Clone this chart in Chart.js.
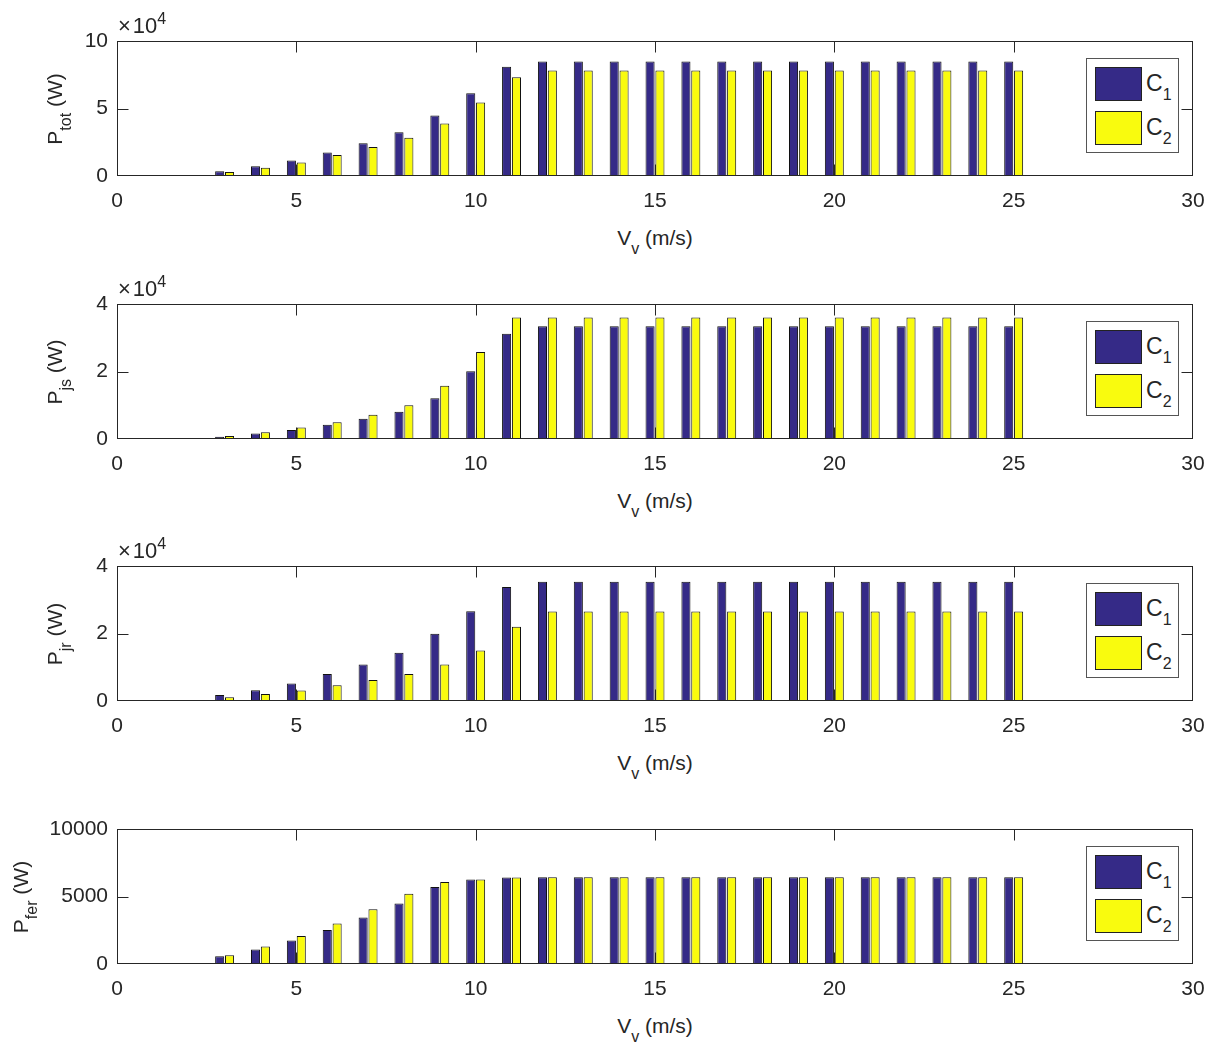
<!DOCTYPE html>
<html>
<head>
<meta charset="utf-8">
<script src="https://cdn.jsdelivr.net/npm/chart.js@4/dist/chart.umd.min.js"></script>
<style>
  body { margin: 0; background: #fff; width: 1214px; height: 1048px; position: relative; overflow: hidden;
         font-family: "Liberation Sans", Arial, sans-serif; color: #262626; }
  .panel { position: absolute; left: 0; width: 1214px; }
  .ytitle { position: absolute; width: 220px; height: 30px; line-height: 30px; text-align: center;
            font-size: 21px; white-space: nowrap; transform: rotate(-90deg); }
  .xtitle { position: absolute; width: 200px; height: 30px; line-height: 30px; text-align: center;
            font-size: 21px; white-space: nowrap; }
  .expo { position: absolute; font-size: 22px; line-height: 22px; white-space: nowrap; }
  .expo .n { margin-left: 2px; }
  .expo sup { font-size: 16px; vertical-align: 9px; line-height: 0; }
  sub { font-size: 16px; vertical-align: -9px; line-height: 0; }
  .leg { position: absolute; width: 91px; height: 93px; border: 1px solid #555; background: #fff; }
  .sw { position: absolute; left: 8px; width: 45px; height: 32px; border: 1px solid #222; }
  .lt { position: absolute; left: 59px; font-size: 23px; line-height: 34px; white-space: nowrap; }
</style>
</head>
<body>
<script>
// vitesse du vent (m/s)
const speeds = [1, 2, 3, 4, 5, 6, 7, 8, 9, 10, 11, 12, 13, 14, 15, 16, 17, 18, 19, 20, 21, 22, 23, 24, 25];

// puissances (W) pour les deux configurations
const ptotC1 = [0, 0, 3500, 7200, 11500, 17500, 24200, 32400, 44900, 61300, 81000, 84800, 84800, 84800, 84800, 84800, 84800, 84800, 84800, 84800, 84800, 84800, 84800, 84800, 84800];
const ptotC2 = [0, 0, 3000, 6200, 10000, 15500, 21400, 28400, 38900, 54400, 73100, 78100, 78100, 78100, 78100, 78100, 78100, 78100, 78100, 78100, 78100, 78100, 78100, 78100, 78100];
const pjsC1 = [0, 0, 700, 1600, 2700, 4200, 6000, 8100, 12100, 20100, 31200, 33400, 33400, 33400, 33400, 33400, 33400, 33400, 33400, 33400, 33400, 33400, 33400, 33400, 33400];
const pjsC2 = [0, 0, 900, 2000, 3400, 5000, 7200, 10000, 15800, 25800, 36000, 36000, 36000, 36000, 36000, 36000, 36000, 36000, 36000, 36000, 36000, 36000, 36000, 36000, 36000];
const pjrC1 = [0, 0, 1800, 3200, 5200, 8000, 10800, 14300, 19900, 26600, 33800, 35300, 35300, 35300, 35300, 35300, 35300, 35300, 35300, 35300, 35300, 35300, 35300, 35300, 35300];
const pjrC2 = [0, 0, 1100, 2100, 3100, 4700, 6200, 8000, 10800, 15000, 22000, 26500, 26500, 26500, 26500, 26500, 26500, 26500, 26500, 26500, 26500, 26500, 26500, 26500, 26500];
const pferC1 = [0, 0, 570, 1080, 1750, 2510, 3450, 4480, 5710, 6260, 6400, 6430, 6430, 6430, 6430, 6430, 6430, 6430, 6430, 6430, 6430, 6430, 6430, 6430, 6430];
const pferC2 = [0, 0, 640, 1300, 2070, 3000, 4060, 5200, 6080, 6260, 6400, 6430, 6430, 6430, 6430, 6430, 6430, 6430, 6430, 6430, 6430, 6430, 6430, 6430, 6430];

// graduations
const xTicks = [0, 5, 10, 15, 20, 25, 30];
const ytotTicks = [0, 50000, 100000];
const yjsTicks = [0, 20000, 40000];
const yjrTicks = [0, 20000, 40000];
const yferTicks = [0, 5000, 10000];

const seriesNames = ['C', 'C'];
const seriesSubs = ['1', '2'];
const colC1 = '#352a87';
const colC2 = '#f9fb0e';
const axisCol = '#262626';
const fontFam = '"Liberation Sans", Arial, sans-serif';

const panels = [
  { sub: 'tot', c1: ptotC1, c2: ptotC2, ticks: ytotTicks, expo: true, top: 41, titleX: 55 },
  { sub: 'js', c1: pjsC1, c2: pjsC2, ticks: yjsTicks, expo: true, top: 304, titleX: 55 },
  { sub: 'jr', c1: pjrC1, c2: pjrC2, ticks: yjrTicks, expo: true, top: 566, titleX: 55 },
  { sub: 'fer', c1: pferC1, c2: pferC2, ticks: yferTicks, expo: false, top: 829, titleX: 21 }
];

const plotH = 135, padTop = 14, xAxisH = 45;
const plotL = 117, plotR = 1193;

// cadre + graduations vers l'interieur (style matlab)
const boxPlugin = {
  id: 'matlabBox',
  afterDatasetsDraw(chart) {
    const ctx = chart.ctx;
    const a = chart.chartArea;
    const L = Math.round(a.left) + 0.5, R = Math.round(a.right) - 0.5;
    const T = Math.round(a.top) + 0.5, B = Math.round(a.bottom) - 0.5;
    ctx.save();
    ctx.strokeStyle = axisCol;
    ctx.lineWidth = 1;
    ctx.strokeRect(L, T, R - L, B - T);
    ctx.beginPath();
    chart.scales.x.ticks.forEach(t => {
      const px = Math.round(chart.scales.x.getPixelForValue(t.value)) + 0.5;
      if (px <= L + 1 || px >= R - 1) return;
      ctx.moveTo(px, B); ctx.lineTo(px, B - 11);
      ctx.moveTo(px, T); ctx.lineTo(px, T + 11);
    });
    chart.scales.y.ticks.forEach(t => {
      const py = Math.round(chart.scales.y.getPixelForValue(t.value)) + 0.5;
      if (py <= T + 1 || py >= B - 1) return;
      ctx.moveTo(L, py); ctx.lineTo(L + 11, py);
      ctx.moveTo(R, py); ctx.lineTo(R - 11, py);
    });
    ctx.stroke();
    ctx.restore();
  }
};

panels.forEach((p, i) => {
  const div = document.createElement('div');
  div.className = 'panel';
  div.style.top = (p.top - padTop) + 'px';
  div.style.height = (padTop + plotH + xAxisH) + 'px';
  const cv = document.createElement('canvas');
  cv.width = 1214;
  cv.height = padTop + plotH + xAxisH;
  div.appendChild(cv);
  document.body.appendChild(div);

  const mk = arr => speeds.map((s, k) => ({ x: s, y: arr[k] }));
  const yMax = p.ticks[p.ticks.length - 1];

  new Chart(cv.getContext('2d'), {
    type: 'bar',
    data: {
      datasets: [
        { label: 'C1', data: mk(p.c1), backgroundColor: colC1, borderColor: '#111', borderWidth: 1 },
        { label: 'C2', data: mk(p.c2), backgroundColor: colC2, borderColor: '#111', borderWidth: 1 }
      ]
    },
    options: {
      responsive: false,
      animation: false,
      events: [],
      layout: { padding: { left: 0, right: 1214 - plotR, top: padTop, bottom: 0 } },
      categoryPercentage: 0.55,
      barPercentage: 0.92,
      plugins: { legend: { display: false }, tooltip: { enabled: false } },
      scales: {
        x: {
          type: 'linear', offset: false, min: 0, max: 30,
          grid: { display: false, drawTicks: false },
          border: { display: false },
          afterBuildTicks: s => { s.ticks = xTicks.map(v => ({ value: v })); },
          afterFit: s => { s.height = xAxisH; s.paddingLeft = 0; s.paddingRight = 0; },
          ticks: { color: axisCol, font: { family: fontFam, size: 21 }, padding: 13, maxRotation: 0, autoSkip: false }
        },
        y: {
          min: 0, max: yMax,
          grid: { display: false, drawTicks: false },
          border: { display: false },
          afterBuildTicks: s => { s.ticks = p.ticks.map(v => ({ value: v })); },
          afterFit: s => { s.width = plotL; s.paddingTop = 0; s.paddingBottom = 0; },
          ticks: {
            color: axisCol, font: { family: fontFam, size: 21 }, padding: 9,
            callback: v => p.expo ? String(v / 10000) : String(v)
          }
        }
      }
    },
    plugins: [boxPlugin]
  });

  // titre de l'axe y
  const yt = document.createElement('div');
  yt.className = 'ytitle';
  yt.innerHTML = 'P<sub>' + p.sub + '</sub> (W)';
  yt.style.left = (p.titleX - 110) + 'px';
  yt.style.top = (p.top + plotH / 2 - 15) + 'px';
  document.body.appendChild(yt);

  // titre de l'axe x
  const xt = document.createElement('div');
  xt.className = 'xtitle';
  xt.innerHTML = 'V<sub>v</sub> (m/s)';
  xt.style.left = ((plotL + plotR) / 2 - 100) + 'px';
  xt.style.top = (p.top + plotH + 47) + 'px';
  document.body.appendChild(xt);

  // facteur d'echelle
  if (p.expo) {
    const ex = document.createElement('div');
    ex.className = 'expo';
    ex.innerHTML = '\u00d7<span class="n">10</span><sup>4</sup>';
    ex.style.left = (plotL + 1) + 'px';
    ex.style.top = (p.top - 26) + 'px';
    document.body.appendChild(ex);
  }

  // legende
  const lg = document.createElement('div');
  lg.className = 'leg';
  lg.style.left = (plotR - 107) + 'px';
  lg.style.top = (p.top + 17) + 'px';
  [colC1, colC2].forEach((c, k) => {
    const sw = document.createElement('div');
    sw.className = 'sw';
    sw.style.top = (8 + k * 44) + 'px';
    sw.style.background = c;
    lg.appendChild(sw);
    const lt = document.createElement('div');
    lt.className = 'lt';
    lt.style.top = (7 + k * 44) + 'px';
    lt.innerHTML = seriesNames[k] + '<sub>' + seriesSubs[k] + '</sub>';
    lg.appendChild(lt);
  });
  document.body.appendChild(lg);
});
</script>
</body>
</html>
